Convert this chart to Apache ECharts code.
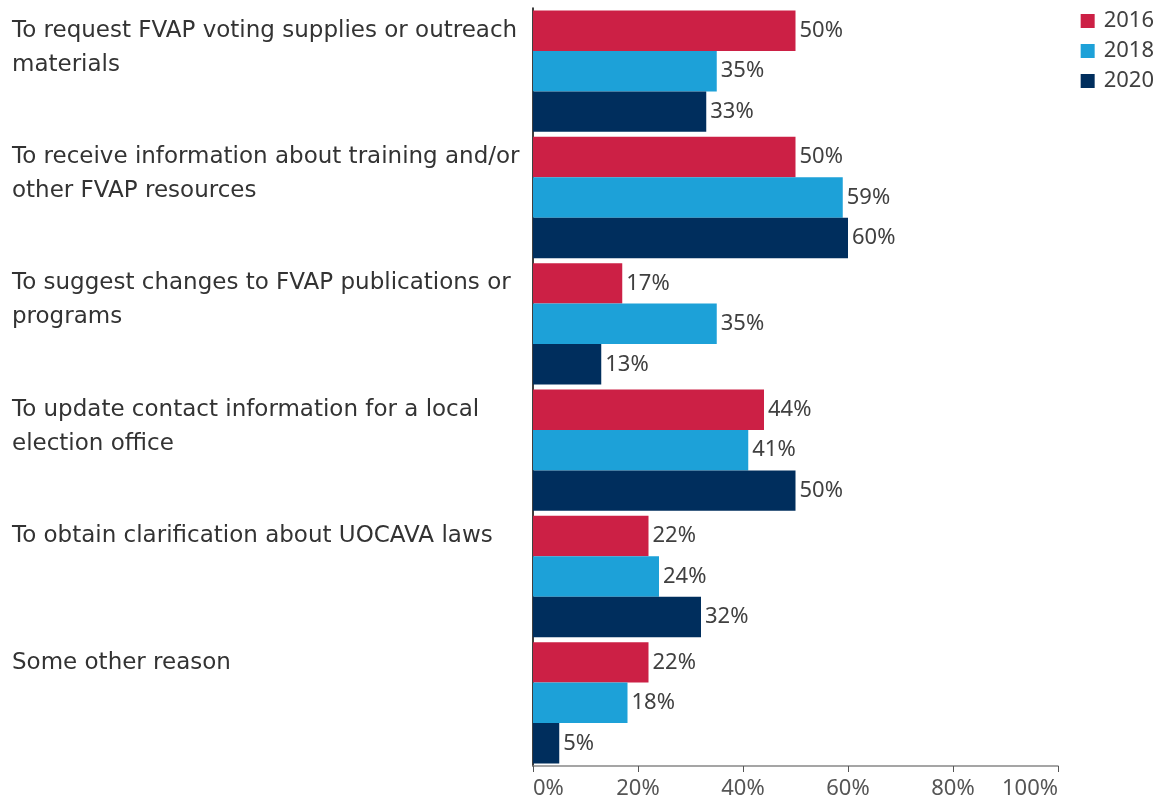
<!DOCTYPE html>
<html>
<head>
<meta charset="utf-8">
<script src="https://cdn.jsdelivr.net/npm/echarts@6/dist/echarts.min.js"></script>
<style>
  html, body { margin: 0; padding: 0; background: #fff; }
  #chart { width: 1160px; height: 801px; }
</style>
</head>
<body>
<div id="chart"></div>
<script>
const categories = [
  'To request FVAP voting supplies or outreach\nmaterials',
  'To receive information about training and/or\nother FVAP resources',
  'To suggest changes to FVAP publications or\nprograms',
  'To update contact information for a local\nelection office',
  'To obtain clarification about UOCAVA laws',
  'Some other reason'
]
const years = ['2016', '2018', '2020']
const values2016 = [50, 50, 17, 44, 22, 22]
const values2018 = [35, 59, 35, 41, 24, 18]
const values2020 = [33, 60, 13, 50, 32, 5]
const xTicks = [0, 20, 40, 60, 80, 100]

const colors = ['#CC2045', '#1DA1D8', '#002E5D']
const seriesData = [values2016, values2018, values2020]
const textFont = 'DejaVu Sans'
const numFont = 'Noto Sans'

const chart = echarts.init(document.getElementById('chart'))

// labels sit at the top of each band: pad the block with a spacer line
const catLabel = v => {
  const lines = v.split('\n')
  const body = lines.map(l => '{t|' + l + '}').join('\n')
  return body + '\n{s' + lines.length + '| }'
}

const option = {
  animation: false,
  textStyle: { fontFamily: numFont },
  grid: { left: 533, right: 102, top: 8, bottom: 35, containLabel: false },
  legend: {
    orient: 'vertical',
    right: 1,
    top: 5,
    icon: 'rect',
    itemWidth: 14,
    itemHeight: 14,
    itemGap: 8,
    textStyle: { fontSize: 22, color: '#404040', fontFamily: numFont, padding: [0, 0, 0, 4] },
    data: years
  },
  xAxis: {
    type: 'value',
    min: xTicks[0],
    max: xTicks[xTicks.length - 1],
    interval: 20,
    splitLine: { show: false },
    axisLine: { show: true, lineStyle: { color: '#888', width: 1.5 } },
    axisTick: { show: true, length: 6, lineStyle: { color: '#555' } },
    axisLabel: {
      fontSize: 22,
      color: '#555',
      margin: 12,
      alignMinLabel: 'left',
      alignMaxLabel: 'right',
      formatter: v => v + '%'
    }
  },
  yAxis: {
    type: 'category',
    inverse: true,
    data: categories,
    axisLine: { show: true, lineStyle: { color: '#000', width: 1.5 } },
    axisTick: { show: false },
    axisLabel: {
      align: 'left',
      verticalAlign: 'middle',
      margin: 521,
      formatter: catLabel,
      rich: {
        t: { fontSize: 23, lineHeight: 34, color: '#333', fontFamily: textFont },
        s1: { fontSize: 10, lineHeight: 80 },
        s2: { fontSize: 10, lineHeight: 47 }
      }
    }
  },
  series: years.map((y, i) => ({
    name: y,
    type: 'bar',
    data: seriesData[i],
    barGap: '0%',
    barCategoryGap: '4%',
    itemStyle: { color: colors[i] },
    label: {
      show: true,
      position: 'right',
      distance: 4,
      fontSize: 22,
      color: '#404040',
      fontFamily: numFont,
      formatter: p => p.value + '%'
    }
  }))
}

chart.setOption(option)
</script>
</body>
</html>
